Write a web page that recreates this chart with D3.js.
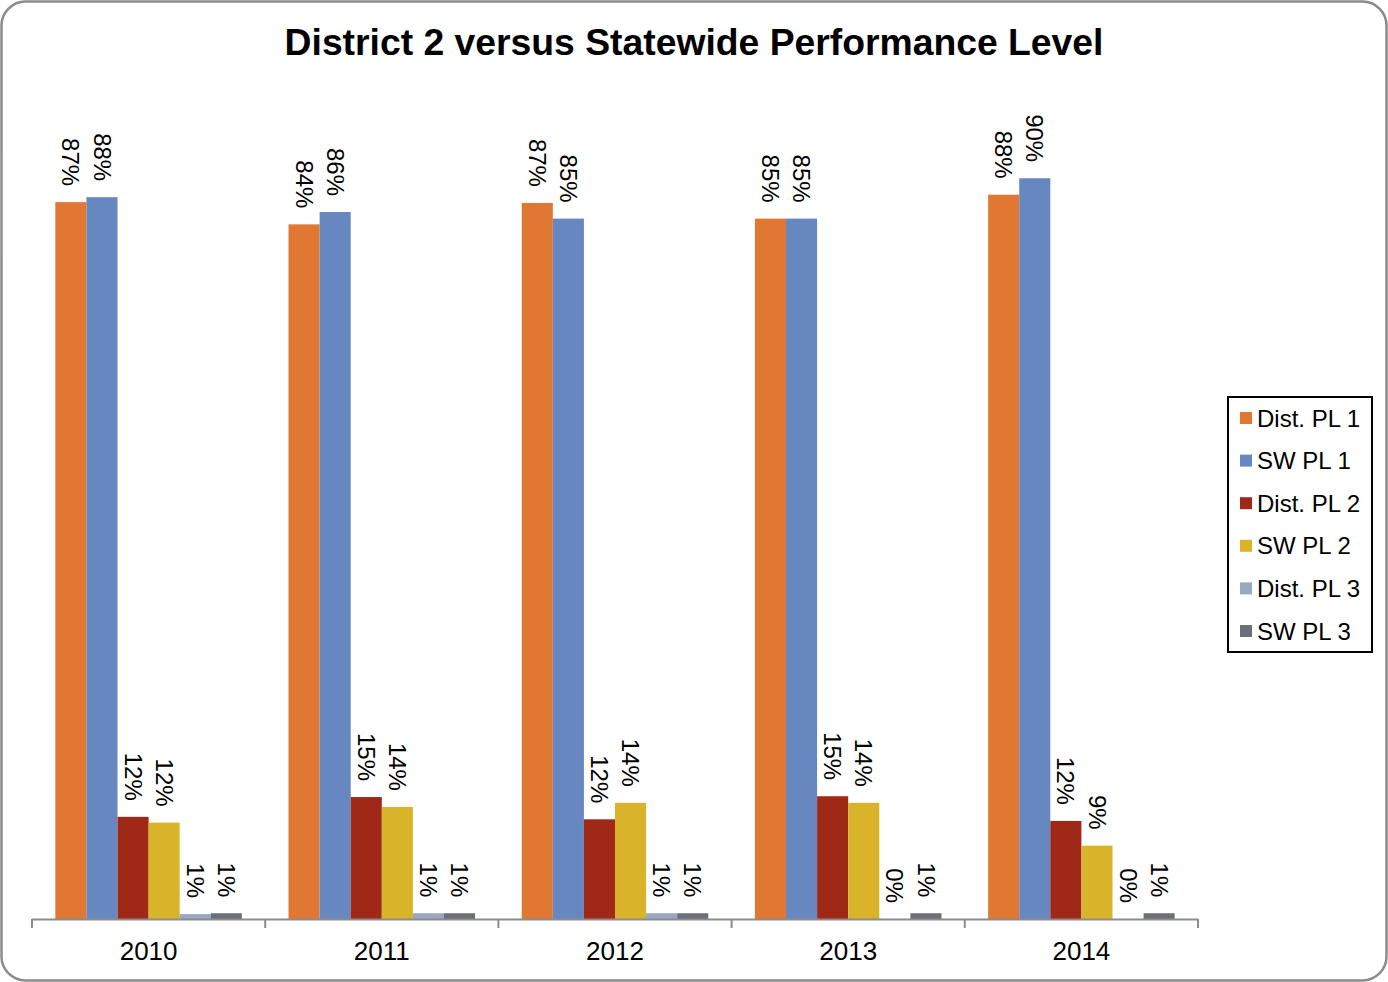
<!DOCTYPE html>
<html>
<head>
<meta charset="utf-8">
<script src="https://cdn.jsdelivr.net/npm/d3@7"></script>
<style>
  body { margin: 0; background: #fff; }
  text { font-family: "Liberation Sans", Arial, sans-serif; }
</style>
</head>
<body>
<svg id="chart"></svg>
<script>
var years = ["2010", "2011", "2012", "2013", "2014"];
var seriesNames = ["Dist. PL 1", "SW PL 1", "Dist. PL 2", "SW PL 2", "Dist. PL 3", "SW PL 3"];
var seriesColors = ["#E07733", "#6787C1", "#A02817", "#D9B42B", "#99A7C3", "#6B6F78"];

// percent values per series, one per year
var distPL1 = [87.0, 84.3, 86.9, 85.0, 87.9];
var swPL1   = [87.6, 85.8, 85.0, 85.0, 89.9];
var distPL2 = [12.4, 14.8, 12.1, 14.9, 11.9];
var swPL2   = [11.7, 13.6, 14.1, 14.1, 8.9];
var distPL3 = [0.6, 0.7, 0.7, 0, 0];
var swPL3   = [0.7, 0.7, 0.7, 0.7, 0.7];

var allSeries = [distPL1, swPL1, distPL2, swPL2, distPL3, swPL3];

var width = 1388, height = 982;

var svg = d3.select("#chart")
  .attr("width", width)
  .attr("height", height);

// outer frame
svg.append("rect")
  .attr("x", 1.5).attr("y", 1.5)
  .attr("width", width - 3).attr("height", height - 3)
  .attr("rx", 24).attr("ry", 24)
  .style("fill", "#fff")
  .style("stroke", "#8c8c8c")
  .style("stroke-width", 2.5);

svg.append("text")
  .attr("x", 694).attr("y", 55)
  .attr("text-anchor", "middle")
  .style("font-size", "37.3px")
  .style("font-weight", "bold")
  .text("District 2 versus Statewide Performance Level");

var x0 = d3.scaleBand()
  .domain(years)
  .range([32, 1198])
  .paddingInner(0.2)
  .paddingOuter(0.1);

var x1 = d3.scaleBand()
  .domain(d3.range(seriesNames.length))
  .range([0, x0.bandwidth()]);

var y = d3.scaleLinear()
  .domain([0, 100])
  .range([919, 95]);

var rows = [];
years.forEach(function(yr, i) {
  allSeries.forEach(function(s, j) {
    rows.push({ year: yr, s: j, value: s[i] });
  });
});

var bars = svg.append("g");

bars.selectAll("rect")
  .data(rows)
  .enter().append("rect")
  .attr("x", function(d) { return x0(d.year) + x1(d.s); })
  .attr("y", function(d) { return y(d.value); })
  .attr("width", x1.bandwidth())
  .attr("height", function(d) { return y(0) - y(d.value); })
  .style("fill", function(d) { return seriesColors[d.s]; });

// value labels, rotated, above each bar
bars.selectAll(".lbl")
  .data(rows)
  .enter().append("text")
  .attr("class", "lbl")
  .attr("transform", function(d) {
    var cx = x0(d.year) + x1(d.s) + x1.bandwidth() / 2;
    return "translate(" + cx + "," + (y(d.value) - 16) + ") rotate(90)";
  })
  .attr("text-anchor", "end")
  .attr("dy", "0.35em")
  .style("font-size", "24px")
  .text(function(d) { return Math.round(d.value) + "%"; });

// category axis
var axis = svg.append("g");
axis.append("line")
  .attr("x1", 32).attr("x2", 1198)
  .attr("y1", 919.5).attr("y2", 919.5)
  .style("stroke", "#8c8c8c").style("stroke-width", 2);

var tickPos = years.map(function(yr) { return x0(yr) - x0.step() * x0.paddingOuter(); });
tickPos.push(1198);
axis.selectAll(".tick")
  .data(tickPos)
  .enter().append("line")
  .attr("x1", function(d) { return d; }).attr("x2", function(d) { return d; })
  .attr("y1", 919).attr("y2", 928)
  .style("stroke", "#8c8c8c").style("stroke-width", 2);

axis.selectAll(".yr")
  .data(years)
  .enter().append("text")
  .attr("x", function(d) { return x0(d) + x0.bandwidth() / 2; })
  .attr("y", 960)
  .attr("text-anchor", "middle")
  .style("font-size", "26px")
  .text(function(d) { return d; });

// legend
var legend = svg.append("g");
legend.append("rect")
  .attr("x", 1228).attr("y", 397)
  .attr("width", 144).attr("height", 255)
  .style("fill", "#fff").style("stroke", "#000").style("stroke-width", 2);

var item = legend.selectAll(".item")
  .data(seriesNames)
  .enter().append("g")
  .attr("transform", function(d, i) { return "translate(1240," + (418 + i * 42.6) + ")"; });

item.append("rect")
  .attr("x", 0).attr("y", -6)
  .attr("width", 12).attr("height", 12)
  .style("fill", function(d, i) { return seriesColors[i]; });

item.append("text")
  .attr("x", 17).attr("y", 8.5)
  .style("font-size", "24px")
  .text(function(d) { return d; });
</script>
</body>
</html>
